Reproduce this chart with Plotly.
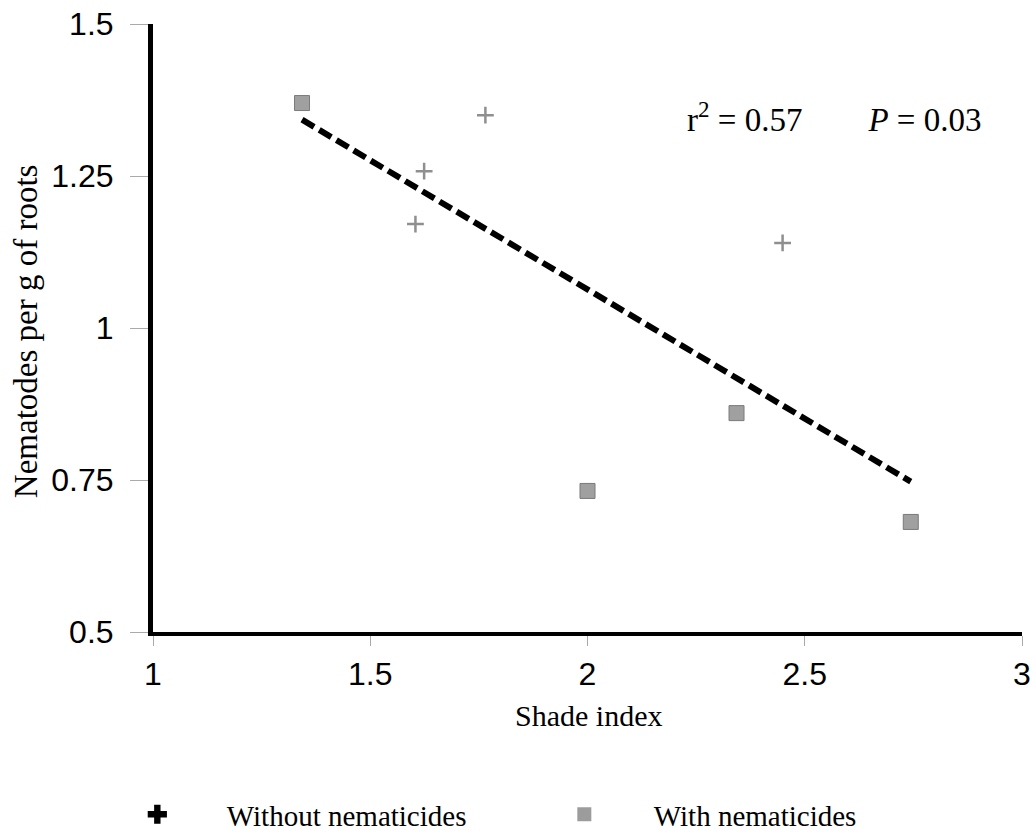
import numpy as np
import plotly.graph_objects as go

# Data
without_x = [1.765, 1.624, 1.604, 2.449]
without_y = [1.350, 1.258, 1.171, 1.140]
with_x = [1.343, 2.343, 2.000, 2.744]
with_y = [1.370, 0.860, 0.732, 0.681]

x_ticks = [1, 1.5, 2, 2.5, 3]
x_tick_text = ["1", "1.5", "2", "2.5", "3"]
y_ticks = [0.5, 0.75, 1, 1.25, 1.5]
y_tick_text = ["0.5", "0.75", "1", "1.25", "1.5"]

# Regression on all points
all_x = np.array(without_x + with_x)
all_y = np.array(without_y + with_y)
slope, intercept = np.polyfit(all_x, all_y, 1)
fit_x = np.array([all_x.min(), all_x.max()])
fit_y = slope * fit_x + intercept

SERIF = "Liberation Serif, Times New Roman, serif"
SANS = "Liberation Sans, Arial, sans-serif"

fig = go.Figure()

fig.add_trace(go.Scatter(
    x=fit_x, y=fit_y, mode="lines",
    line=dict(color="black", width=6, dash="14px,6px"),
    showlegend=False, hoverinfo="skip"))

fig.add_trace(go.Scatter(
    x=without_x, y=without_y, mode="markers",
    marker=dict(symbol="cross-thin", size=12, line=dict(color="#8f8f8f", width=2.5)),
    showlegend=False))

fig.add_trace(go.Scatter(
    x=with_x, y=with_y, mode="markers",
    marker=dict(symbol="square", size=15, color="#a0a0a0",
                line=dict(color="#7a7a7a", width=1)),
    showlegend=False))

# Legend entries
fig.add_trace(go.Scatter(
    x=[None], y=[None], mode="markers", name="Without nematicides",
    marker=dict(symbol="cross", size=17, color="black")))
fig.add_trace(go.Scatter(
    x=[None], y=[None], mode="markers", name="With nematicides",
    marker=dict(symbol="square", size=14, color="#9c9c9c")))

fig.add_annotation(
    x=2.224, y=1.347, xref="x", yref="y", xanchor="left", yanchor="middle",
    text="r<sup>2</sup> = 0.57&nbsp;&nbsp;&nbsp;&nbsp;&nbsp;&nbsp;&nbsp;&nbsp;<i>P</i> = 0.03",
    showarrow=False, font=dict(family=SERIF, size=33, color="black"))

# Axis titles
fig.add_annotation(
    x=-0.146, y=0.495, xref="paper", yref="paper",
    xanchor="center", yanchor="middle", textangle=-90,
    text="Nematodes per g of roots", showarrow=False,
    font=dict(family=SERIF, size=33, color="black"))
fig.add_annotation(
    x=0.5006, y=-0.137, xref="paper", yref="paper",
    xanchor="center", yanchor="middle",
    text="Shade index", showarrow=False,
    font=dict(family=SERIF, size=30, color="black"))

fig.update_layout(
    width=1036, height=833,
    margin=dict(l=153, r=14, t=24, b=201, autoexpand=False),
    paper_bgcolor="white", plot_bgcolor="white",
    legend=dict(
        orientation="h", x=-0.075, y=-0.3, xanchor="left", yanchor="middle",
        font=dict(family=SERIF, size=29, color="black"),
        itemwidth=129, entrywidth=283, entrywidthmode="pixels",
        bgcolor="rgba(0,0,0,0)"),
    xaxis=dict(
        range=[1, 3], tickvals=x_ticks, ticktext=x_tick_text,
        showgrid=False, zeroline=False, automargin=False,
        showline=True, linecolor="black", linewidth=4,
        ticks="outside", ticklen=10, tickcolor="#aaa", tickwidth=1,
        ticklabelstandoff=1,
        tickfont=dict(family=SANS, size=32, color="black")),
    yaxis=dict(
        range=[0.5, 1.5], tickvals=y_ticks, ticktext=y_tick_text,
        showgrid=False, zeroline=False, automargin=False,
        showline=True, linecolor="black", linewidth=5,
        ticks="outside", ticklen=18, tickcolor="#aaa", tickwidth=1,
        ticklabelstandoff=10,
        tickfont=dict(family=SANS, size=32, color="black")),
)

fig.write_html("out.html", post_script="document.body.style.margin='0';",
               config={"displayModeBar": False})
